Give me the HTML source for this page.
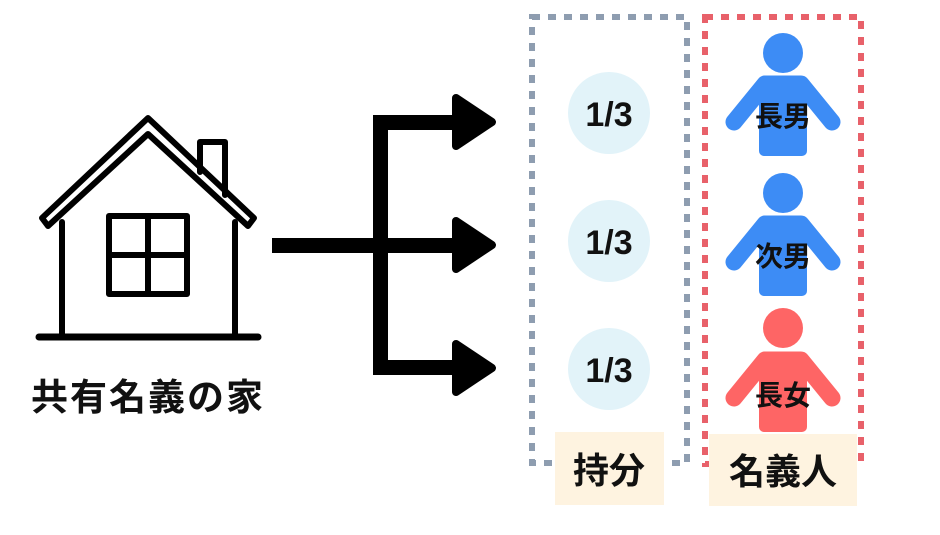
<!DOCTYPE html>
<html><head><meta charset="utf-8"><style>
body{margin:0;background:#fff;}
svg text{font-family:"Liberation Sans","Noto Sans CJK JP",sans-serif;font-weight:bold;}
</style></head><body>
<svg width="940" height="530" viewBox="0 0 940 530" xmlns="http://www.w3.org/2000/svg">
<!-- house -->
<g fill="none" stroke="#000" stroke-width="6" stroke-linejoin="round" stroke-linecap="round">
<path d="M42,218 L148,118 L254,218 L248,226 L148,134 L48,226 Z"/>
<path d="M200,172 V142 H225 V195"/>
<path d="M62,222 V334 M235,222 V334"/>
<path d="M39,337 H258" stroke-width="7"/>
<rect x="109" y="216" width="78" height="78"/>
<path d="M148,216 V294 M109,255 H187"/>
</g>
<text x="148" y="410" font-size="37" text-anchor="middle" letter-spacing="2" fill="#111">共有名義の家</text>
<!-- arrows -->
<g fill="#000">
<rect x="272" y="238" width="110" height="15"/>
<rect x="373" y="115" width="15" height="260"/>
<rect x="373" y="115" width="85" height="15"/>
<rect x="373" y="238" width="85" height="15"/>
<rect x="373" y="360" width="85" height="15"/>
</g>
<g fill="#000" stroke="#000" stroke-width="8" stroke-linejoin="round">
<path d="M456,98 L492,122 L456,146 Z"/>
<path d="M456,221 L492,245 L456,269 Z"/>
<path d="M456,344 L492,368 L456,392 Z"/>
</g>
<!-- dotted boxes -->
<rect x="532" y="17" width="155" height="446" fill="none" stroke="#8e9db0" stroke-width="6" stroke-dasharray="8 8"/>
<rect x="705" y="17" width="156" height="447" fill="none" stroke="#e8616a" stroke-width="6" stroke-dasharray="8 8"/>
<!-- circles -->
<g fill="#e2f3f9">
<circle cx="609" cy="113" r="41"/><circle cx="609" cy="241" r="41"/><circle cx="609" cy="369" r="41"/>
</g>
<g font-size="34" text-anchor="middle" fill="#111">
<text x="609" y="126">1/3</text><text x="609" y="254">1/3</text><text x="609" y="382">1/3</text>
</g>
<!-- persons -->
<g fill="#3d8cf5" stroke="#3d8cf5">
<circle cx="783" cy="53" r="20" stroke="none"/>
<path d="M765,84 H801 L832,122 M765,84 L734,122" fill="none" stroke-width="17" stroke-linecap="round" stroke-linejoin="round"/>
<rect x="759" y="78" width="48" height="78" rx="5" stroke="none"/>
</g>
<g fill="#3d8cf5" stroke="#3d8cf5">
<circle cx="783" cy="193" r="20" stroke="none"/>
<path d="M765,224 H801 L832,262 M765,224 L734,262" fill="none" stroke-width="17" stroke-linecap="round" stroke-linejoin="round"/>
<rect x="759" y="218" width="48" height="78" rx="5" stroke="none"/>
</g>
<g fill="#fe6565" stroke="#fe6565">
<circle cx="783" cy="328" r="20" stroke="none"/>
<path d="M765,360 H801 L832,398 M765,360 L734,398" fill="none" stroke-width="17" stroke-linecap="round" stroke-linejoin="round"/>
<rect x="759" y="354" width="48" height="78" rx="5" stroke="none"/>
</g>
<g font-size="28" text-anchor="middle" fill="#111">
<text x="783" y="126">長男</text><text x="783" y="266">次男</text><text x="783" y="405">長女</text>
</g>
<!-- labels -->
<rect x="555" y="432" width="109" height="73" fill="#fef3e0"/>
<rect x="709" y="434" width="148" height="72" fill="#fef3e0"/>
<g font-size="36" text-anchor="middle" fill="#111">
<text x="609" y="483">持分</text><text x="783" y="484">名義人</text>
</g>
</svg>
</body></html>
